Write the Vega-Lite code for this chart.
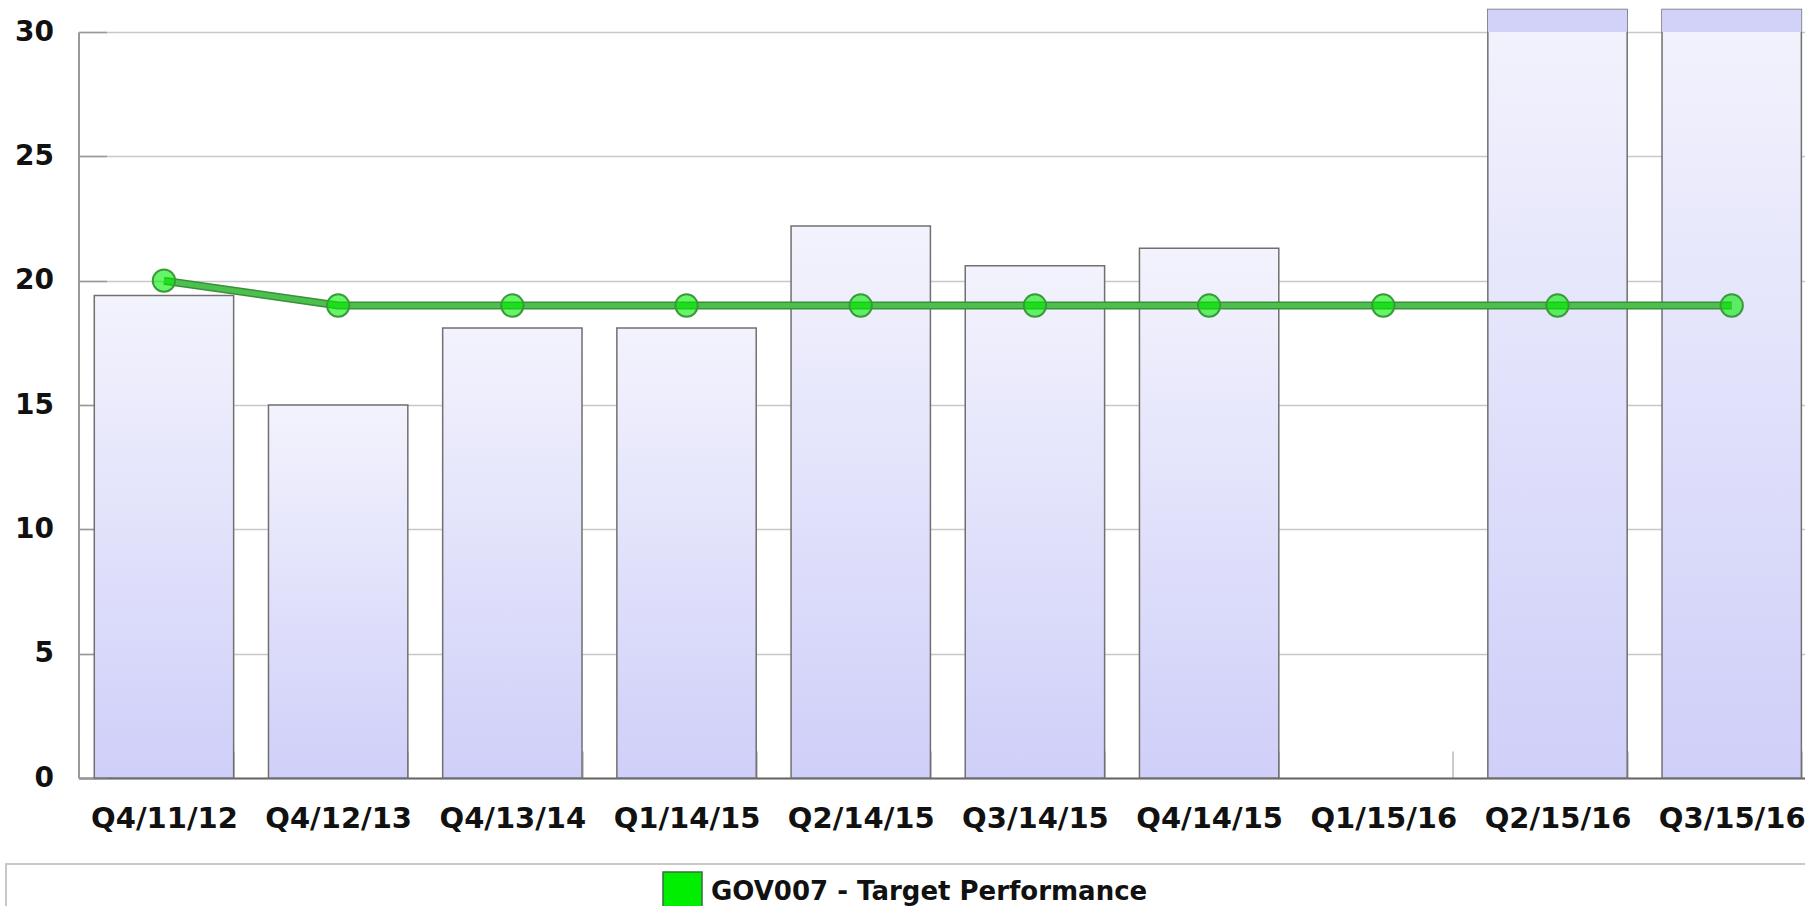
{
  "$schema": "https://vega.github.io/schema/vega-lite/v6.json",
  "padding": {"left": 5, "top": 8, "right": 0, "bottom": 0},
  "background": "white",
  "center": true,
  "spacing": 30,
  "config": {"font": "DejaVu Sans"},
  "data": {
    "values": [
      {"period": "Q4/11/12", "actual": 19.4, "target": 20},
      {"period": "Q4/12/13", "actual": 15.0, "target": 19},
      {"period": "Q4/13/14", "actual": 18.1, "target": 19},
      {"period": "Q1/14/15", "actual": 18.1, "target": 19},
      {"period": "Q2/14/15", "actual": 22.2, "target": 19},
      {"period": "Q3/14/15", "actual": 20.6, "target": 19},
      {"period": "Q4/14/15", "actual": 21.3, "target": 19},
      {"period": "Q1/15/16", "actual": null, "target": 19},
      {"period": "Q2/15/16", "actual": 30.9, "target": 19},
      {"period": "Q3/15/16", "actual": 30.9, "target": 19}
    ]
  },
  "vconcat": [
    {
      "width": 1728,
      "height": 746,
      "view": {"stroke": null},
      "encoding": {
        "x": {
          "field": "period",
          "type": "nominal",
          "sort": ["Q4/11/12", "Q4/12/13", "Q4/13/14", "Q1/14/15", "Q2/14/15", "Q3/14/15", "Q4/14/15", "Q1/15/16", "Q2/15/16", "Q3/15/16"],
          "scale": {"paddingInner": 0.2, "paddingOuter": 0.06, "align": 0.755},
          "axis": {
            "title": null,
            "labelAngle": 0,
            "labelFont": "DejaVu Sans",
            "labelFontWeight": "bold",
            "labelFontSize": 29,
            "labelColor": "#111111",
            "labelPadding": 53,
            "tickBand": "extent",
            "tickSize": -27,
            "tickColor": "#bbbbbb",
            "tickWidth": 1.5,
            "domainColor": "#666666",
            "domainWidth": 2,
            "grid": false
          }
        }
      },
      "layer": [
        {
          "mark": {
            "type": "bar",
            "fill": {
              "gradient": "linear",
              "x1": 0, "y1": 0, "x2": 0, "y2": 1,
              "stops": [
                {"offset": 0, "color": "#f3f3fd"},
                {"offset": 1, "color": "#cfcff9"}
              ]
            },
            "stroke": "#707070",
            "strokeWidth": 1.5
          },
          "encoding": {
            "y": {
              "field": "actual",
              "type": "quantitative",
              "scale": {"domain": [0, 30], "nice": false, "zero": true},
              "axis": {
                "title": null,
                "values": [0, 5, 10, 15, 20, 25, 30],
                "labelFont": "DejaVu Sans",
                "labelFontWeight": "bold",
                "labelFontSize": 28,
                "labelColor": "#111111",
                "labelPadding": 53,
                "tickSize": -28,
                "tickColor": "#999999",
                "tickWidth": 1.5,
                "domainColor": "#999999",
                "domainWidth": 2,
                "grid": true,
                "gridColor": "#c8c8c8",
                "gridWidth": 1.5,
                "minExtent": 72
              }
            }
          }
        },
        {
          "transform": [{"filter": "datum.actual > 30"}],
          "mark": {"type": "bar", "fill": "#d2d2f8", "stroke": null},
          "encoding": {
            "y": {"field": "actual", "type": "quantitative"},
            "y2": {"datum": 30}
          }
        },
        {
          "mark": {"type": "line", "stroke": "#3b8f3b", "strokeWidth": 8},
          "encoding": {"y": {"field": "target", "type": "quantitative"}}
        },
        {
          "mark": {"type": "line", "stroke": "#4cc04c", "strokeWidth": 5},
          "encoding": {"y": {"field": "target", "type": "quantitative"}}
        },
        {
          "mark": {"type": "point", "shape": "circle", "filled": true, "size": 500, "stroke": "#3a9a3a", "strokeWidth": 2, "fillOpacity": 0.6},
          "encoding": {
            "y": {"field": "target", "type": "quantitative"},
            "color": {
              "datum": "GOV007 - Target Performance",
              "scale": {"range": ["#00ee00"]},
              "legend": {
                "orient": "none",
                "legendX": 656,
                "legendY": 839,
                "title": null,
                "padding": 0,
                "symbolType": "square",
                "symbolSize": 1521,
                "symbolStrokeColor": "#3d6b3d",
                "symbolStrokeWidth": 1.5,
                "labelFont": "DejaVu Sans",
                "labelFontWeight": "bold",
                "labelFontSize": 26,
                "labelColor": "#111111",
                "labelOffset": 8,
                "labelLimit": 1000,
                "encode": {
                  "symbols": {
                    "update": {
                      "stroke": {"value": "#3d6b3d"},
                      "strokeWidth": {"value": 1.5},
                      "opacity": {"value": 1},
                      "fillOpacity": {"value": 1}
                    }
                  }
                }
              }
            }
          }
        }
      ]
    },
    {
      "width": 1872,
      "height": 70,
      "view": {"stroke": "#c8c8c8", "strokeWidth": 2},
      "data": {"values": []},
      "mark": "text",
      "encoding": {}
    }
  ]
}
